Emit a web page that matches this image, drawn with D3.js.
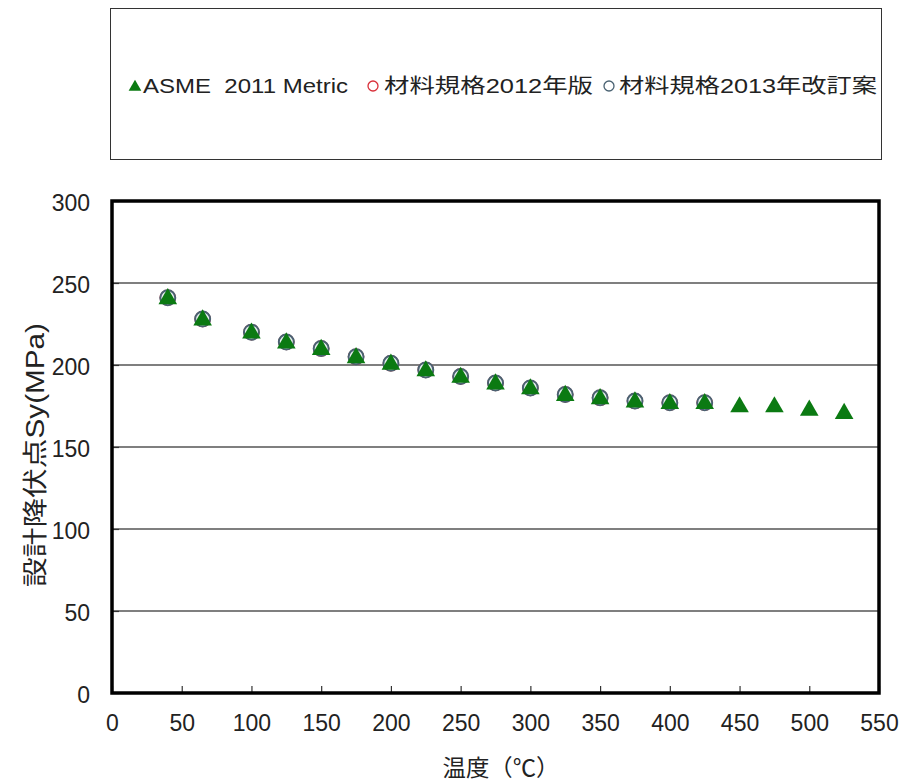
<!DOCTYPE html>
<html>
<head>
<meta charset="utf-8">
<script src="https://cdn.jsdelivr.net/npm/d3@7"></script>
<style>
  body { margin: 0; background: #fff; }
  text { font-family: "Liberation Sans", Arial, "Noto Sans CJK JP", sans-serif; fill: #222; }
  .jp { font-family: "Liberation Sans", "Noto Sans CJK JP", sans-serif; }
</style>
</head>
<body>
<svg id="chart" width="904" height="780"></svg>
<script>
// temperatures (°C)
let tempsAsme = [40, 65, 100, 125, 150, 175, 200, 225, 250, 275, 300, 325, 350, 375, 400, 425, 450, 475, 500, 525];
let sy2011 = [241, 228, 220, 214, 210, 205, 201, 197, 193, 189, 186, 182, 180, 178, 177, 177, 175, 175, 173, 171];

let tempsJis = [40, 65, 100, 125, 150, 175, 200, 225, 250, 275, 300, 325, 350, 375, 400, 425];
let sy2012 = [241, 228, 220, 214, 210, 205, 201, 197, 193, 189, 186, 182, 180, 178, 177, 177];
let sy2013 = [241, 228, 220, 214, 210, 205, 201, 197, 193, 189, 186, 182, 180, 178, 177, 177];

let xTicks = [0, 50, 100, 150, 200, 250, 300, 350, 400, 450, 500, 550];
let yTicks = [0, 50, 100, 150, 200, 250, 300];

let plotL = 112, plotR = 879, plotT = 201, plotB = 693;

let svg = d3.select("#chart");

let x = d3.scaleLinear().domain([0, 550]).range([plotL, plotR]);
let y = d3.scaleLinear().domain([0, 300]).range([plotB, plotT]);

// legend box
svg.append("rect")
  .attr("x", 110.5).attr("y", 8.5)
  .attr("width", 771).attr("height", 151)
  .attr("fill", "none").attr("stroke", "#333").attr("stroke-width", 1);

// gridlines
svg.selectAll(".grid")
  .data(yTicks.filter(d => d > 0 && d < 300))
.enter().append("line")
  .attr("class", "grid")
  .attr("x1", plotL).attr("x2", plotR)
  .attr("y1", d => y(d)).attr("y2", d => y(d))
  .attr("stroke", "#555").attr("stroke-width", 1.5);

// axes (ticks pointing inside)
let xAxis = d3.axisBottom(x).tickValues(xTicks).tickSize(-7).tickPadding(22).tickSizeOuter(0);
let yAxis = d3.axisLeft(y).tickValues(yTicks).tickSize(-7).tickPadding(22).tickSizeOuter(0);

let gx = svg.append("g").attr("transform", "translate(0," + plotB + ")").call(xAxis);
let gy = svg.append("g").attr("transform", "translate(" + plotL + ",0)").call(yAxis);
[gx, gy].forEach(g => {
  g.select(".domain").remove();
  g.selectAll("line").attr("stroke", "#333").attr("stroke-width", 1.2);
  g.selectAll("text").style("font-size", "23px").attr("fill", "#222");
});
gy.selectAll("text").attr("dy", "0.42em");

// plot border
svg.append("rect")
  .attr("x", plotL).attr("y", plotT)
  .attr("width", plotR - plotL).attr("height", plotB - plotT)
  .attr("fill", "none").attr("stroke", "#000").attr("stroke-width", 3.5);

// axis titles
svg.append("text")
  .attr("class", "jp")
  .attr("x", 501).attr("y", 776)
  .attr("text-anchor", "middle")
  .attr("textLength", 117).attr("lengthAdjust", "spacingAndGlyphs")
  .style("font-size", "23px")
  .text("温度（℃）");

svg.append("text")
  .attr("class", "jp")
  .attr("transform", "translate(44,455) rotate(-90)")
  .attr("text-anchor", "middle")
  .attr("textLength", 264).attr("lengthAdjust", "spacingAndGlyphs")
  .style("font-size", "25px")
  .text("設計降伏点Sy(MPa)");

// series
let tri = d3.symbol().type(d3.symbolTriangle).size(150);

svg.selectAll(".c2012")
  .data(tempsJis.map((t, i) => [t, sy2012[i]]))
.enter().append("circle")
  .attr("class", "c2012")
  .attr("cx", d => x(d[0])).attr("cy", d => y(d[1]))
  .attr("r", 7.5)
  .attr("fill", "#fff").attr("stroke", "#d9303a").attr("stroke-width", 1.5);

svg.selectAll(".c2013")
  .data(tempsJis.map((t, i) => [t, sy2013[i]]))
.enter().append("circle")
  .attr("class", "c2013")
  .attr("cx", d => x(d[0])).attr("cy", d => y(d[1]))
  .attr("r", 7.5)
  .attr("fill", "#e8eef0").attr("stroke", "#4a6272").attr("stroke-width", 2);

svg.selectAll(".asme")
  .data(tempsAsme.map((t, i) => [t, sy2011[i]]))
.enter().append("path")
  .attr("class", "asme")
  .attr("d", tri)
  .attr("transform", d => "translate(" + x(d[0]) + "," + (y(d[1]) + 1) + ")")
  .attr("fill", "#0b7a12");

// legend
let legY = 93;
svg.append("path")
  .attr("d", d3.symbol().type(d3.symbolTriangle).size(70))
  .attr("transform", "translate(135," + (legY - 6) + ")")
  .attr("fill", "#0b7a12");
svg.append("text")
  .attr("x", 143).attr("y", legY)
  .attr("textLength", 205).attr("lengthAdjust", "spacingAndGlyphs")
  .style("font-size", "20px")
  .text("ASME\u00a0\u00a02011 Metric");

svg.append("circle")
  .attr("cx", 373).attr("cy", legY - 7).attr("r", 5)
  .attr("fill", "none").attr("stroke", "#d9303a").attr("stroke-width", 1.3);
svg.append("text")
  .attr("class", "jp")
  .attr("x", 384).attr("y", legY)
  .attr("textLength", 209).attr("lengthAdjust", "spacingAndGlyphs")
  .style("font-size", "20px")
  .text("材料規格2012年版");

svg.append("circle")
  .attr("cx", 609).attr("cy", legY - 7).attr("r", 5)
  .attr("fill", "none").attr("stroke", "#4a6272").attr("stroke-width", 1.3);
svg.append("text")
  .attr("class", "jp")
  .attr("x", 619).attr("y", legY)
  .attr("textLength", 258).attr("lengthAdjust", "spacingAndGlyphs")
  .style("font-size", "20px")
  .text("材料規格2013年改訂案");
</script>
</body>
</html>
